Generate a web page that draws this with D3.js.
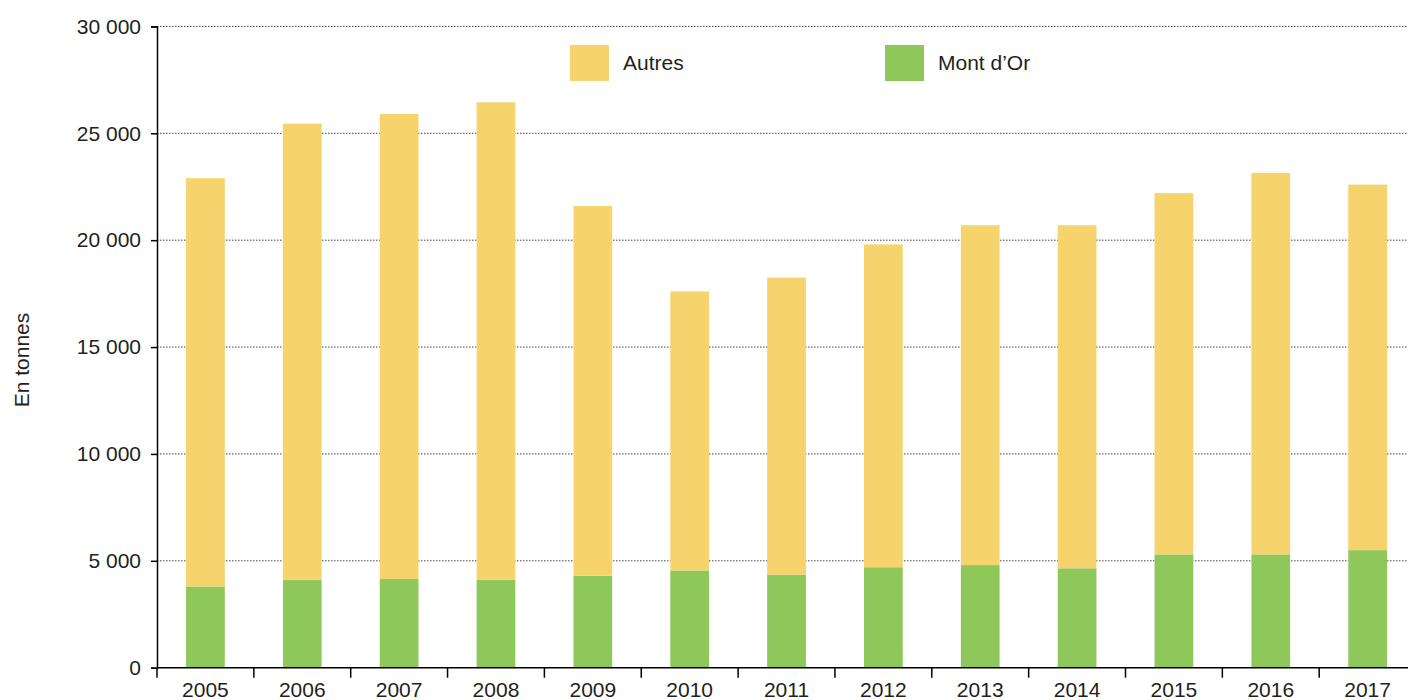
<!DOCTYPE html>
<html>
<head>
<meta charset="utf-8">
<script src="https://cdn.jsdelivr.net/npm/d3@7"></script>
<style>
  html, body { margin: 0; padding: 0; background: #fff; }
  svg { display: block; font-family: "Liberation Sans", Arial, sans-serif; }
</style>
</head>
<body>
<div id="chart"></div>
<script>
const years = ["2005", "2006", "2007", "2008", "2009", "2010", "2011", "2012", "2013", "2014", "2015", "2016", "2017"];
const montDOr = [3800, 4100, 4150, 4100, 4300, 4550, 4350, 4700, 4800, 4650, 5300, 5300, 5500];
const autres = [19100, 21350, 21750, 22350, 17300, 13050, 13900, 15100, 15900, 16050, 16900, 17850, 17100];
const yTicks = [0, 5000, 10000, 15000, 20000, 25000, 30000];
const seriesKeys = ["Mont d'Or", "Autres"];
const legendLabels = ["Autres", "Mont d\u2019Or"];

const W = 1408, H = 700;
const margin = { top: 26.4, right: 0, bottom: 32.3, left: 157 };
const innerW = W - margin.left - margin.right;
const innerH = H - margin.top - margin.bottom;
// the category axis runs a little past the right edge of the picture
const bandSpan = 13 * 96.85;

const colors = { "Autres": "#f6d36d", "Mont d'Or": "#8ec85a" };
const textColor = "#231f20";
const fontSize = "21px";

const fr = d3.formatLocale({ decimal: ",", thousands: " ", grouping: [3], currency: ["", " €"] });
const fmt = fr.format(",");

const rows = years.map((y, i) => ({ year: y, "Mont d'Or": montDOr[i], "Autres": autres[i] }));
const stacked = d3.stack().keys(seriesKeys)(rows);

const svg = d3.select("#chart").append("svg")
  .attr("width", W)
  .attr("height", H);

const g = svg.append("g").attr("transform", `translate(${margin.left},${margin.top})`);

// scales
const xAxisScale = d3.scaleBand().domain(years).range([0, bandSpan]).padding(0);
const x = d3.scaleBand().domain(years).range([0, bandSpan]).paddingInner(0.6).paddingOuter(0.3);
const y = d3.scaleLinear().domain([0, 30000]).range([innerH, 0]);

// grid lines (dotted)
g.append("g")
  .selectAll("line")
  .data(yTicks.filter(d => d > 0))
  .join("line")
  .attr("x1", 0)
  .attr("x2", innerW)
  .attr("y1", d => y(d))
  .attr("y2", d => y(d))
  .attr("stroke", "#444")
  .attr("stroke-width", 1)
  .attr("stroke-dasharray", "1.5,1.5");

// bars
g.append("g").attr("class", "layers")
  .selectAll("g.layer")
  .data(stacked)
  .join("g")
  .attr("class", "layer")
  .attr("fill", d => colors[d.key])
  .selectAll("rect")
  .data(d => d)
  .join("rect")
  .attr("x", d => x(d.data.year))
  .attr("width", x.bandwidth())
  .attr("y", d => y(d[1]))
  .attr("height", d => y(d[0]) - y(d[1]));

// y axis
const yAxis = g.append("g")
  .call(d3.axisLeft(y).tickValues(yTicks).tickFormat(fmt).tickSize(6).tickPadding(10));
yAxis.select(".domain").attr("stroke", "#000").attr("stroke-width", 1.5);
yAxis.selectAll(".tick line").attr("stroke", "#000").attr("stroke-width", 1.5);
yAxis.selectAll(".tick text")
  .attr("fill", textColor)
  .style("font-size", fontSize)
  .style("font-family", "Liberation Sans, Arial, sans-serif");

// x axis: line, boundary ticks, centered labels
const xg = g.append("g").attr("transform", `translate(0,${innerH})`);
xg.append("line")
  .attr("x1", 0).attr("x2", innerW)
  .attr("stroke", "#000").attr("stroke-width", 1.5);
const boundaries = years.map(yv => xAxisScale(yv)).concat([bandSpan]);
xg.selectAll("line.bt")
  .data(boundaries)
  .join("line")
  .attr("class", "bt")
  .attr("x1", d => d).attr("x2", d => d)
  .attr("y1", 0).attr("y2", 10)
  .attr("stroke", "#000").attr("stroke-width", 1.5);
xg.selectAll("text")
  .data(years)
  .join("text")
  .attr("x", d => xAxisScale(d) + xAxisScale.bandwidth() / 2)
  .attr("y", 29)
  .attr("text-anchor", "middle")
  .attr("fill", textColor)
  .style("font-size", fontSize)
  .text(d => d);

// y title
svg.append("text")
  .attr("transform", "translate(29,360) rotate(-90)")
  .attr("text-anchor", "middle")
  .attr("fill", textColor)
  .style("font-size", fontSize)
  .text("En tonnes");

// legend
const legendX = [570, 885];
const legend = svg.append("g").attr("class", "legend");
const item = legend.selectAll("g.item")
  .data(legendLabels)
  .join("g")
  .attr("class", "item")
  .attr("transform", (d, i) => `translate(${legendX[i]},45)`);
item.append("rect")
  .attr("width", 39)
  .attr("height", 36)
  .attr("fill", (d, i) => colors[i === 0 ? "Autres" : "Mont d'Or"]);
item.append("text")
  .attr("x", 53)
  .attr("y", 18)
  .attr("dy", "0.35em")
  .attr("fill", textColor)
  .style("font-size", fontSize)
  .text(d => d);
</script>
</body>
</html>
